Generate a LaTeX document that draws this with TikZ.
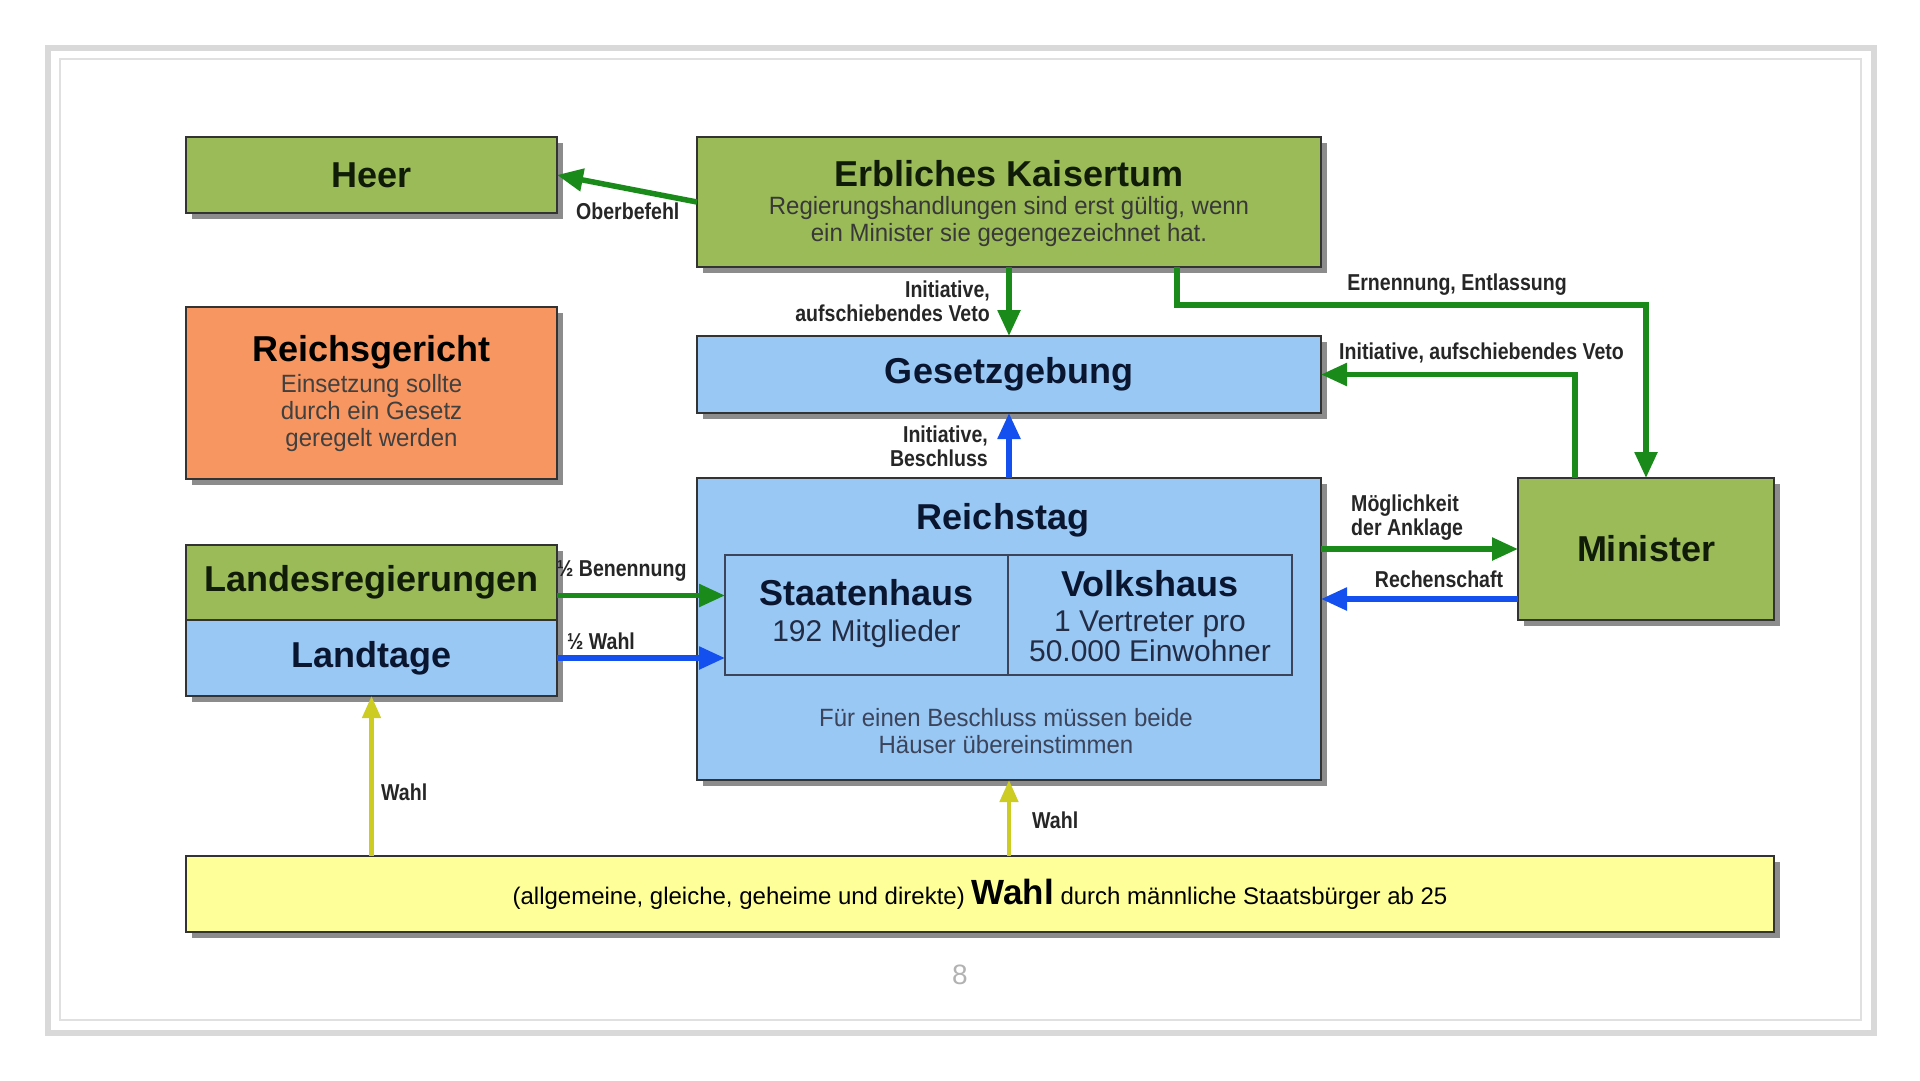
\documentclass[tikz,border=0pt]{standalone}
\usepackage{fontspec}
\setmainfont{Liberation Sans}
\newfontfamily\lblfont{Liberation Sans}[FakeStretch=0.85]
\newfontfamily\subfont{Liberation Sans}[FakeStretch=0.96]
\usetikzlibrary{arrows.meta,shadows,calc}
\definecolor{boxgreen}{HTML}{9BBB59}
\definecolor{boxblue}{HTML}{99C8F5}
\definecolor{boxorange}{HTML}{F79660}
\definecolor{boxyellow}{HTML}{FFFF99}
\definecolor{argreen}{HTML}{1A8A1A}
\definecolor{arblue}{HTML}{1450F0}
\definecolor{aryellow}{HTML}{CCCC22}
\definecolor{gtitle}{HTML}{101C08}
\definecolor{btitle}{HTML}{0A1530}
\newcommand\boxtitle{\bfseries\fontsize{36}{40}\selectfont}
\newcommand\subtxt{\subfont\fontsize{25}{27}\selectfont}
\newcommand\celltxt{\fontsize{30}{30}\selectfont}
\newcommand\lbltxt{\lblfont\bfseries\fontsize{23}{24}\selectfont}
\tikzset{
  box/.style={draw=black!80, line width=2pt, inner sep=0pt, outer sep=0pt,
    drop shadow={shadow xshift=6pt, shadow yshift=-6pt, fill=black!50, opacity=0.9}},
  gbox/.style={box, fill=boxgreen, text=gtitle},
  bbox/.style={box, fill=boxblue, text=btitle},
  obox/.style={box, fill=boxorange, text=black},
  ybox/.style={box, fill=boxyellow, text=black},
  cell/.style={draw=btitle!80, line width=1.5pt, inner sep=0pt, outer sep=0pt},
  txt/.style={inner sep=0pt, align=center},
  subt/.style={txt, font=\subtxt, text=black!75},
  lbl/.style={inner sep=0pt, font=\lbltxt, text=black!85},
  garrow/.style={draw=argreen, line width=5.5pt, -{Triangle[length=26pt,width=22pt]}},
  barrow/.style={draw=arblue, line width=5.5pt, -{Triangle[length=26pt,width=22pt]}},
  yarrow/.style={draw=aryellow, line width=4.5pt, -{Triangle[length=22pt,width=18pt]}},
}
\begin{document}
\begin{tikzpicture}[x=1pt,y=-1pt]
\useasboundingbox (0,0) rectangle (1920,1080);
\fill[white] (0,0) rectangle (1920,1080);
\draw[line width=6pt, black!15] (47.5,47.5) rectangle (1873.5,1032.5);
\draw[line width=2pt, black!12] (60,59) rectangle (1861,1020);

% boxes
\node[gbox, minimum width=371pt, minimum height=76pt] (heer) at (371.5,175) {\boxtitle Heer};
\node[gbox, minimum width=624pt, minimum height=130pt] (kaiser) at (1009,202) {};
\node[txt, font=\boxtitle, text=gtitle] (kaisert) at (1009,174) {Erbliches Kaisertum};
\node[subt, text=black!78] (kaisers) at (1009,222) {Regierungshandlungen sind erst gültig, wenn\\ein Minister sie gegengezeichnet hat.};

\node[obox, minimum width=371pt, minimum height=172pt] (gericht) at (371.5,393) {};
\node[txt, font=\boxtitle] (gerichtt) at (371.5,352) {Reichsgericht};
\node[subt] (gerichts) at (371.5,413) {Einsetzung sollte\\durch ein Gesetz\\geregelt werden};

\node[bbox, minimum width=624pt, minimum height=77pt] (gesetz) at (1009,374.5) {\boxtitle Gesetzgebung};

\node[bbox, minimum width=624pt, minimum height=302pt] (reichstag) at (1009,629) {};
\node[txt, font=\boxtitle, text=btitle] (reichstagt) at (1003,520) {Reichstag};
\node[cell, minimum width=283pt, minimum height=120pt] (staat) at (866.5,615) {};
\node[cell, minimum width=284pt, minimum height=120pt] (volk) at (1150,615) {};
\node[txt, font=\boxtitle, text=btitle] (staatt) at (866.5,593) {Staatenhaus};
\node[txt, font=\celltxt, text=btitle!90] (staats) at (866.5,634) {192 Mitglieder};
\node[txt, font=\boxtitle, text=btitle] (volkt) at (1150,584) {Volkshaus};
\node[txt, font=\celltxt, text=btitle!90] (volks) at (1150,636) {1 Vertreter pro\\50.000 Einwohner};
\node[subt, text=btitle!80] (reichstags) at (1006,731) {Für einen Beschluss müssen beide\\Häuser übereinstimmen};

\node[gbox, minimum width=371pt, minimum height=75pt] (landes) at (371.5,582.5) {\boxtitle Landesregierungen};
\node[bbox, minimum width=371pt, minimum height=76pt] (landtage) at (371.5,658) {\boxtitle Landtage};

\node[gbox, minimum width=256pt, minimum height=142pt] (minister) at (1646,549) {\boxtitle Minister};

\node[ybox, minimum width=1588pt, minimum height=76pt] (wahlbar) at (980,894)
  {\fontsize{24}{26}\selectfont (allgemeine, gleiche, geheime und direkte) {\bfseries\fontsize{35}{36}\selectfont Wahl} durch männliche Staatsbürger ab 25};

\node[txt, text=black!30, font=\fontsize{28}{30}\selectfont] (pnum) at (960,975) {8};

% connectors
\draw[garrow] (kaiser.west) -- (heer.east);
\node[lbl, anchor=west] (lober) at (576,211) {Oberbefehl};

\draw[garrow] (kaiser.south) -- (gesetz.north);
\node[lbl, anchor=east, align=right] (linit1) at (990,301) {Initiative,\\aufschiebendes Veto};

\draw[garrow, line join=miter] ([xshift=168pt]kaiser.south) |- ([yshift=173pt]minister.north) -- (minister.north);
\node[lbl] (lern) at (1457,285) {Ernennung, Entlassung};

\draw[garrow, line join=miter] ([xshift=-71pt]minister.north) |- (gesetz.east);
\node[lbl, anchor=west] (linit2) at (1339,353) {Initiative, aufschiebendes Veto};

\draw[barrow] (reichstag.north) -- (gesetz.south);
\node[lbl, anchor=east, align=right] (lbeschl) at (988,446) {Initiative,\\Beschluss};

\draw[garrow] (minister.west -| reichstag.east) -- (minister.west);
\node[lbl, anchor=west, align=left] (lankl) at (1351,518) {Möglichkeit\\der Anklage};

\draw[barrow] ([yshift=-50pt]minister.west) -- ([yshift=-50pt]minister.west -| reichstag.east);
\node[lbl] (lrech) at (1439,579) {Rechenschaft};

\draw[garrow] ([yshift=-13pt]landes.east) -- ([yshift=-13pt]landes.east -| staat.west);
\node[lbl, anchor=west] (lben) at (557,571) {½ Benennung};

\draw[barrow] (landtage.east) -- (landtage.east -| staat.west);
\node[lbl, anchor=west] (lhw) at (567,641) {½ Wahl};

\draw[yarrow] (wahlbar.north -| landtage.south) -- (landtage.south);
\node[lbl, anchor=west] (lw1) at (381,792) {Wahl};

\draw[yarrow] (wahlbar.north -| reichstag.south) -- (reichstag.south);
\node[lbl, anchor=west] (lw2) at (1032,820) {Wahl};
\end{tikzpicture}
\end{document}
